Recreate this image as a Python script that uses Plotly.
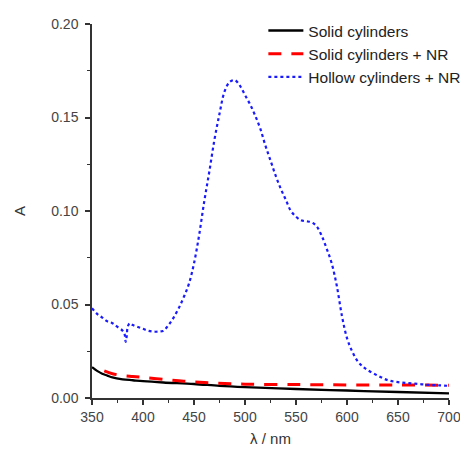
import plotly.graph_objects as go

# Hollow cylinders + NR
wl_hollow = [350, 355, 360, 365, 370, 375, 380, 382, 383, 384, 385, 387, 390, 395, 400, 405, 410, 415, 420,
             425, 430, 435, 440, 445, 450, 455, 460, 465, 470, 475, 480, 485, 490, 495, 500, 505, 510,
             515, 520, 525, 530, 535, 540, 545, 550, 555, 560, 565, 570, 575, 580, 585, 590, 595, 600,
             605, 610, 615, 620, 630, 640, 650, 660, 670, 680, 690, 700]
a_hollow = [0.048, 0.045, 0.043, 0.041, 0.040, 0.038, 0.036, 0.034, 0.030, 0.033, 0.038, 0.040, 0.039,
            0.038, 0.037, 0.036, 0.0355, 0.0355, 0.036, 0.039, 0.043, 0.048, 0.054, 0.061, 0.072, 0.087,
            0.105, 0.121, 0.138, 0.152, 0.164, 0.169, 0.170, 0.167, 0.162, 0.157, 0.151, 0.144, 0.135,
            0.127, 0.119, 0.112, 0.106, 0.100, 0.097, 0.095, 0.0945, 0.094, 0.092, 0.087, 0.080, 0.072,
            0.060, 0.044, 0.032, 0.025, 0.020, 0.017, 0.015, 0.012, 0.0095, 0.0085, 0.008, 0.0075,
            0.007, 0.0068, 0.0065]

# Solid cylinders + NR
wl_solid_nr = [362, 370, 380, 390, 400, 420, 440, 460, 480, 500, 550, 600, 650, 700]
a_solid_nr = [0.0145, 0.013, 0.012, 0.0115, 0.011, 0.010, 0.009, 0.0083, 0.0078, 0.0074, 0.0072,
              0.0070, 0.0070, 0.0068]

# Solid cylinders
wl_solid = [350, 355, 360, 365, 370, 380, 390, 400, 420, 450, 475, 500, 550, 600, 650, 700]
a_solid = [0.0165, 0.0145, 0.013, 0.012, 0.011, 0.010, 0.0095, 0.009, 0.0083, 0.0075, 0.0065,
           0.0058, 0.0048, 0.0040, 0.0032, 0.0025]

x_ticks = [350, 400, 450, 500, 550, 600, 650, 700]
y_ticks = [0.00, 0.05, 0.10, 0.15, 0.20]
y_tick_labels = ["0.00", "0.05", "0.10", "0.15", "0.20"]

fig = go.Figure()
fig.add_trace(go.Scatter(x=wl_solid, y=a_solid, mode="lines", name="Solid cylinders",
                         line=dict(color="black", width=2.3, shape="spline")))
fig.add_trace(go.Scatter(x=wl_solid_nr, y=a_solid_nr, mode="lines", name="Solid cylinders + NR",
                         line=dict(color="#ff0000", width=3, dash="13px,10px", shape="spline")))
fig.add_trace(go.Scatter(x=wl_hollow, y=a_hollow, mode="lines", name="Hollow cylinders + NR",
                         line=dict(color="#1a1aff", width=2.2, dash="dot", shape="spline")))

axis_common = dict(showline=True, linecolor="#333333", linewidth=1.5, ticks="outside",
                   tickcolor="#333333", ticklen=5, tickwidth=1.5, showgrid=False, zeroline=False,
                   tickfont=dict(family="Liberation Sans, Arial", size=14, color="#444444"),
                   mirror=False)

fig.update_layout(
    width=468, height=452,
    margin=dict(l=84, r=27, t=16, b=62, autoexpand=False),
    paper_bgcolor="white", plot_bgcolor="white",
    font=dict(family="Liberation Sans, Arial", color="#222222"),
    xaxis=dict(range=[350, 700], tickvals=x_ticks,
               minor=dict(ticks="outside", dtick=25, tick0=350, ticklen=3, tickcolor="#333333", tickwidth=1.2),
               title=dict(text="λ / nm", font=dict(size=15, color="#333333"), standoff=10),
               **axis_common),
    yaxis=dict(range=[0, 0.2], tickvals=y_ticks, ticktext=y_tick_labels, ticklabelstandoff=4,
               minor=dict(ticks="outside", dtick=0.025, tick0=0, ticklen=3, tickcolor="#333333", tickwidth=1.2),
               title=dict(text="A", font=dict(size=15, color="#333333"), standoff=22),
               **axis_common),
    legend=dict(x=0.480, y=1.027, xanchor="left", yanchor="top", bgcolor="rgba(0,0,0,0)",
                font=dict(family="Liberation Sans, Arial", size=15.5, color="#222222"),
                tracegroupgap=0, itemwidth=35),
    showlegend=True,
)

fig.write_html("out.html")
